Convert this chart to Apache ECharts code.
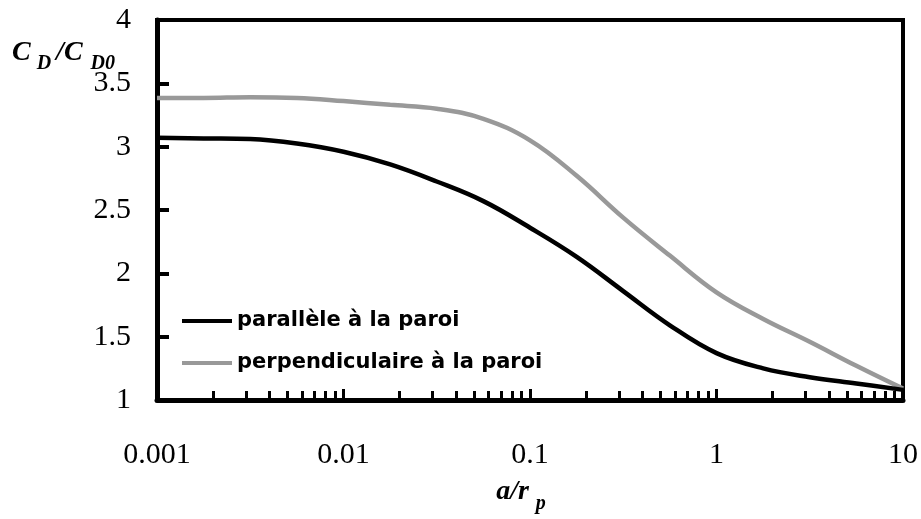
<!DOCTYPE html>
<html>
<head>
<meta charset="utf-8">
<script src="https://cdn.jsdelivr.net/npm/echarts@6/dist/echarts.min.js"></script>
<style>html,body{margin:0;padding:0;background:#fff}#c{width:921px;height:519px}</style>
</head>
<body>
<div id="c"></div>
<script>
// Data (values at quarter-decade positions of a/r_p)
const seriesNames = ['parallèle à la paroi', 'perpendiculaire à la paroi'];
const xValues = [0.001, 0.00178, 0.00316, 0.00562, 0.01, 0.0178, 0.0316, 0.0562, 0.1, 0.178, 0.316, 0.562, 1, 1.78, 3.16, 5.62, 10];
const yParallel = [3.07, 3.065, 3.06, 3.025, 2.96, 2.86, 2.725, 2.57, 2.36, 2.13, 1.86, 1.59, 1.37, 1.25, 1.18, 1.13, 1.08];
const yPerp = [3.385, 3.385, 3.39, 3.385, 3.36, 3.33, 3.30, 3.22, 3.05, 2.77, 2.44, 2.14, 1.85, 1.64, 1.46, 1.27, 1.09];
const xTickLabels = ['0.001', '0.01', '0.1', '1', '10'];
const xMinorTicks = [0.002,0.003,0.004,0.005,0.006,0.007,0.008,0.009,
  0.02,0.03,0.04,0.05,0.06,0.07,0.08,0.09,
  0.2,0.3,0.4,0.5,0.6,0.7,0.8,0.9,
  2,3,4,5,6,7,8,9];
const yTickLabels = ['1', '1.5', '2', '2.5', '3', '3.5', '4'];

const serif = '"Liberation Serif", "Times New Roman", serif';
const chart = echarts.init(document.getElementById('c'), null, {renderer: 'canvas'});
const pairs = (xs, ys) => xs.map((x, i) => [x, ys[i]]);

chart.setOption({
  animation: false,
  backgroundColor: '#fff',
  grid: {left: 157, right: 17, top: 20, bottom: 108, show: true, borderColor: '#000', borderWidth: 4, containLabel: false},
  legend: {
    orient: 'vertical', left: 177, top: 305, itemWidth: 50, itemHeight: 4, itemGap: 20, icon: 'rect',
    data: seriesNames,
    textStyle: {fontFamily: '"DejaVu Sans", sans-serif', fontWeight: 'bold', fontSize: 21, color: '#000', lineHeight: 22}
  },
  xAxis: [{
    type: 'log', logBase: 10, min: 0.001, max: 10, position: 'bottom',
    axisLine: {onZero: false, lineStyle: {color: '#000', width: 5}},
    axisTick: {inside: true, length: 11, lineStyle: {color: '#000', width: 3}},
    splitLine: {show: false}, minorTick: {show: false},
    axisLabel: {fontFamily: serif, fontSize: 30, color: '#000', margin: 40,
      formatter: (v, i) => xTickLabels[i]},
    name: '{b|a/r}{s|p}', nameLocation: 'middle', nameGap: 78,
    nameTextStyle: {rich: {
      b: {fontFamily: serif, fontStyle: 'italic', fontWeight: 'bold', fontSize: 28, color: '#000', padding: [0,0,8,0], verticalAlign: 'bottom'},
      s: {fontFamily: serif, fontStyle: 'italic', fontWeight: 'bold', fontSize: 20, color: '#000', padding: [0,18,0,7], verticalAlign: 'bottom'}
    }}
  }, {
    type: 'log', logBase: 10, min: 0.001, max: 10, position: 'bottom', gridIndex: 0,
    axisLine: {show: false},
    axisTick: {inside: true, length: 9, customValues: xMinorTicks, lineStyle: {color: '#000', width: 3}},
    axisLabel: {show: false}, splitLine: {show: false}
  }],
  yAxis: {
    type: 'value', min: 1, max: 4, interval: 0.5,
    axisLine: {show: true, lineStyle: {color: '#000', width: 5}},
    axisTick: {show: true, inside: true, length: 12, lineStyle: {color: '#000', width: 4}},
    splitLine: {show: false},
    axisLabel: {fontFamily: serif, fontSize: 30, color: '#000', margin: 26,
      formatter: (v, i) => yTickLabels[i]}
  },
  graphic: [{
    type: 'text', left: 12, top: 39,
    style: {
      text: '{b|C}{s|D}{b|/C}{t|D0}',
      rich: {
        b: {fontFamily: serif, fontStyle: 'italic', fontWeight: 'bold', fontSize: 28, fill: '#000', padding: [0,0,7,0], verticalAlign: 'bottom'},
        s: {fontFamily: serif, fontStyle: 'italic', fontWeight: 'bold', fontSize: 20, fill: '#000', padding: [0,5,0,6], verticalAlign: 'bottom'},
        t: {fontFamily: serif, fontStyle: 'italic', fontWeight: 'bold', fontSize: 20, fill: '#000', padding: [0,0,0,8], verticalAlign: 'bottom'}
      }
    }
  }],
  series: [{
    name: seriesNames[0], type: 'line', xAxisIndex: 0, smooth: 0.4, showSymbol: false,
    data: pairs(xValues, yParallel), itemStyle: {color: '#000'},
    lineStyle: {color: '#000', width: 4.5}, z: 3
  }, {
    name: seriesNames[1], type: 'line', xAxisIndex: 0, smooth: 0.4, showSymbol: false,
    data: pairs(xValues, yPerp), itemStyle: {color: '#999'},
    lineStyle: {color: '#999', width: 4.5}, z: 2
  }]
});
</script>
</body>
</html>
